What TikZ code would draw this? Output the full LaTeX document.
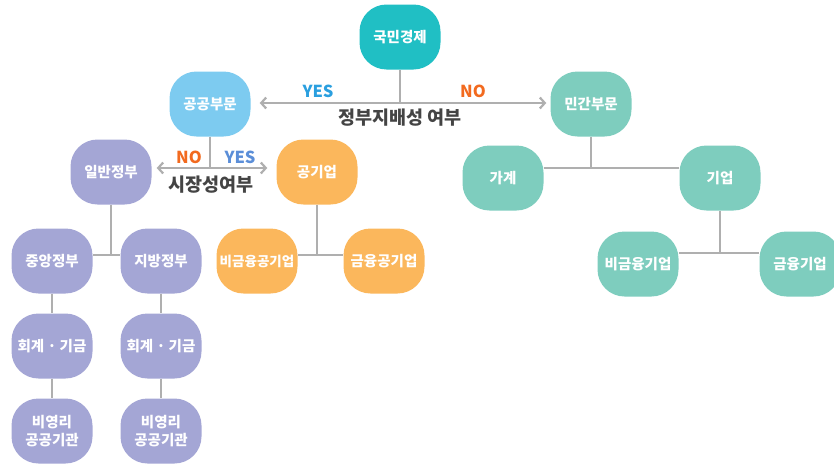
\documentclass[tikz,border=0pt]{standalone}
\usepackage{fontspec}
\setmainfont{Noto Sans CJK KR}
\usetikzlibrary{arrows.meta}
\definecolor{cteal}{HTML}{20BFC4}
\definecolor{cblue}{HTML}{7DCBF0}
\definecolor{cmint}{HTML}{7ECDBE}
\definecolor{cpurple}{HTML}{A4A6D5}
\definecolor{corange}{HTML}{FBB75C}
\definecolor{cline}{HTML}{AFAFAF}
\definecolor{cyes}{HTML}{2A9FDF}
\definecolor{cyes2}{HTML}{5B8ED8}
\definecolor{cno}{HTML}{F26A1F}
\definecolor{clabel}{HTML}{444444}
\tikzset{
  box/.style={rounded corners=27pt, minimum width=81pt, minimum height=65pt, inner sep=0pt,
    text=white, font=\fontsize{14.5}{17.5}\selectfont\bfseries, align=center},
  narrow/.style={font=\fontsize{13.5}{16}\selectfont\bfseries},
  teal/.style={box, fill=cteal},
  pub/.style={box, fill=cblue},
  mint/.style={box, fill=cmint},
  gov/.style={box, fill=cpurple},
  org/.style={box, fill=corange},
  conn/.style={draw=cline, line width=1.8pt},
  arr/.style={draw=cline, line width=2.2pt, {Straight Barb[length=5pt,width=11pt]}-{Straight Barb[length=5pt,width=11pt]}},
  yn/.style={font=\fontsize{16.5}{19}\selectfont\bfseries},
  crit/.style={font=\fontsize{18.5}{22}\selectfont\bfseries, text=clabel}
}
\begin{document}
\begin{tikzpicture}[x=1pt,y=-1pt]
\useasboundingbox (0,0) rectangle (834,466);
\clip (0,0) rectangle (834,466);
% nodes
\node[teal] (ne) at (400,37) {국민경제};
\node[pub] (pb) at (210,104) {공공부문};
\node[mint] (pv) at (591,104) {민간부문};
\node[gov] (gg) at (111,172) {일반정부};
\node[org] (pe) at (317,172) {공기업};
\node[mint] (hh) at (503,178) {가계};
\node[mint] (fi) at (720,178) {기업};
\node[gov] (cg) at (52,261) {중앙정부};
\node[gov] (lg) at (161,261) {지방정부};
\node[org, narrow] (nfp) at (257,261) {비금융공기업};
\node[org] (fp) at (384,261) {금융공기업};
\node[mint] (nff) at (638,264) {비금융기업};
\node[mint] (ff) at (800,264) {금융기업};
\node[gov] (af1) at (52,346) {회계 · 기금};
\node[gov] (af2) at (161,346) {회계 · 기금};
\node[gov] (np1) at (52,431) {비영리\\공공기관};
\node[gov] (np2) at (161,431) {비영리\\공공기관};
% junction coordinates
\coordinate (j1) at (400,103);
\coordinate (j2) at (210,168);
\coordinate (j3) at (111,255);
\coordinate (j4) at (317,255);
\coordinate (j5) at (591,168);
\coordinate (j6) at (720,253);
% connectors
\draw[conn] (ne.south) -- (j1);
\draw[arr] ([xshift=9pt]pb.east|-j1) -- ([xshift=-4pt]pv.west|-j1);
\draw[conn] (pb.south) -- (j2);
\draw[arr] ([xshift=5pt]gg.east|-j2) -- ([xshift=-9pt]pe.west|-j2);
\draw[conn] (gg.south) -- (j3);
\draw[conn] (cg.east|-j3) -- (lg.west|-j3);
\draw[conn] (pe.south) -- (j4);
\draw[conn] (nfp.east|-j4) -- (fp.west|-j4);
\draw[conn] (pv.south) -- (j5);
\draw[conn] (hh.east|-j5) -- (fi.west|-j5);
\draw[conn] (fi.south) -- (j6);
\draw[conn] (nff.east|-j6) -- (ff.west|-j6);
\draw[conn] (cg) -- (af1);
\draw[conn] (af1) -- (np1);
\draw[conn] (lg) -- (af2);
\draw[conn] (af2) -- (np2);
% labels
\node[yn, text=cyes] (y1) at (318,91) {YES};
\node[yn, text=cno] (n1) at (473,91) {NO};
\node[crit] (c1) at (400,118) {정부지배성 여부};
\node[yn, text=cno] (n2) at (189,157) {NO};
\node[yn, text=cyes2] (y2) at (240,157) {YES};
\node[crit] (c2) at (211,185) {시장성여부};
\end{tikzpicture}
\end{document}
